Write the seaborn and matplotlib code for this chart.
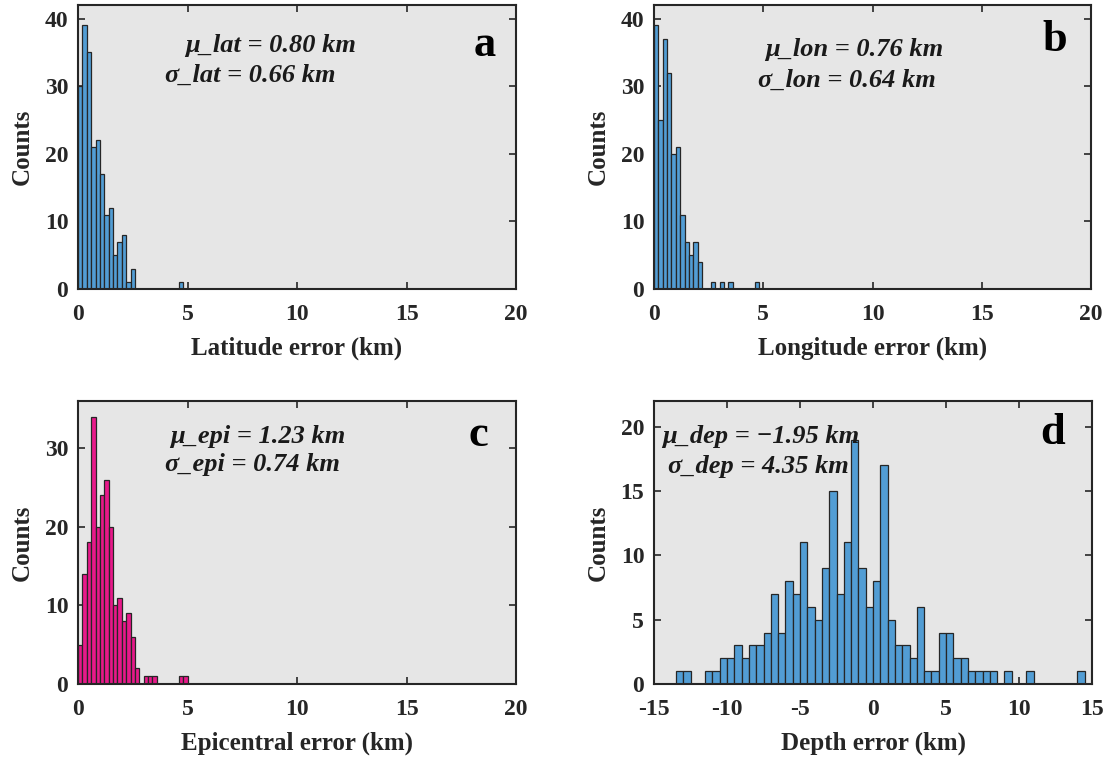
import numpy as np
import matplotlib
matplotlib.use("Agg")
import matplotlib.pyplot as plt
import seaborn as sns

# histogram counts (MATLAB-style fixed-width bins)
lat_start, lat_width = 0.0, 0.2
lat_counts = [30, 39, 35, 21, 22, 17, 11, 12, 5, 7, 8, 1, 3,
              0, 0, 0, 0, 0, 0, 0, 0, 0, 0, 1]

lon_start, lon_width = 0.0, 0.2
lon_counts = [39, 25, 37, 32, 20, 21, 11, 7, 5, 7, 4, 0, 0, 1,
              0, 1, 0, 1, 0, 0, 0, 0, 0, 1]

epi_start, epi_width = 0.0, 0.2
epi_counts = [5, 14, 18, 34, 20, 24, 26, 20, 10, 11, 8, 9, 6, 2,
              0, 1, 1, 1, 0, 0, 0, 0, 0, 1, 1]

dep_start, dep_width = -13.5, 0.5
dep_counts = [1, 1, 0, 0, 1, 1, 2, 2, 3, 2, 3, 3, 4, 7, 4, 8, 7, 11, 6, 5,
              9, 15, 7, 11, 19, 9, 6, 8, 17, 5, 3, 3, 2, 6, 1, 1, 4, 4, 2, 2,
              1, 1, 1, 1, 0, 1, 0, 0, 1, 0, 0, 0, 0, 0, 0, 1]

xlabels = ["Latitude error (km)", "Longitude error (km)",
           "Epicentral error (km)", "Depth error (km)"]
stat_mu = ["\u03bc_lat = 0.80 km", "\u03bc_lon = 0.76 km",
           "\u03bc_epi = 1.23 km", "\u03bc_dep = \u22121.95 km"]
stat_sd = ["\u03c3_lat = 0.66 km", "\u03c3_lon = 0.64 km",
           "\u03c3_epi = 0.74 km", "\u03c3_dep = 4.35 km"]
letters = ["a", "b", "c", "d"]

sns.set_style("ticks")
plt.rcParams["font.family"] = ["Liberation Serif", "DejaVu Serif"]
plt.rcParams["font.weight"] = "bold"
plt.rcParams["axes.labelweight"] = "bold"
plt.rcParams["axes.unicode_minus"] = False

blue = "#529dd4"
pink = "#e8198a"
bg = "#e6e6e6"

fig = plt.figure(figsize=(11.1, 7.6), dpi=100)
rects = [[0.0703, 0.6197, 0.3946, 0.3737],
         [0.5892, 0.6197, 0.3937, 0.3737],
         [0.0703, 0.1000, 0.3946, 0.3724],
         [0.5892, 0.1000, 0.3946, 0.3724]]

panels = [(lat_start, lat_width, lat_counts, blue),
          (lon_start, lon_width, lon_counts, blue),
          (epi_start, epi_width, epi_counts, pink),
          (dep_start, dep_width, dep_counts, blue)]

xlims = [(0, 20), (0, 20), (0, 20), (-15, 15)]
xticks = [np.arange(0, 21, 5)] * 3 + [np.arange(-15, 16, 5)]
ylims = [(0, 42), (0, 42), (0, 36), (0, 22)]
yticks = [np.arange(0, 41, 10), np.arange(0, 41, 10),
          np.arange(0, 31, 10), np.arange(0, 21, 5)]

# text positions in axes fraction
mu_pos = [(0.244, 0.859), (0.254, 0.842), (0.21, 0.873), (0.018, 0.873)]
sd_pos = [(0.199, 0.754), (0.238, 0.736), (0.199, 0.774), (0.032, 0.770)]
let_pos = [(0.929, 0.859), (0.918, 0.877), (0.913, 0.880), (0.911, 0.887)]

for i, (start, width, counts, col) in enumerate(panels):
    ax = fig.add_axes(rects[i])
    ax.set_facecolor(bg)
    nb = len(counts)
    centers = start + width * (np.arange(nb) + 0.5)
    # one sample per counted event, placed at its bin centre
    samples = np.repeat(centers, counts)
    sns.histplot(x=samples, binwidth=width,
                 binrange=(start, start + width * nb), ax=ax,
                 color=col, alpha=1.0, edgecolor="#262626", linewidth=0.9)
    ax.set_xlim(*xlims[i])
    ax.set_ylim(*ylims[i])
    ax.set_xticks(xticks[i])
    ax.set_yticks(yticks[i])
    ax.set_xlabel(xlabels[i], fontsize=18, fontweight="bold", labelpad=8)
    ax.set_ylabel("Counts", fontsize=18, fontweight="bold", labelpad=8)
    ax.tick_params(direction="in", top=True, right=True, length=5,
                   width=1.2, labelsize=17, color="#262626")
    ax.tick_params(axis="x", pad=11)
    ax.tick_params(axis="y", pad=7)
    for lab in ax.get_xticklabels() + ax.get_yticklabels():
        lab.set_fontweight("bold")
    for s in ax.spines.values():
        s.set_visible(True)
        s.set_linewidth(1.5)
        s.set_color("#262626")
    ax.text(*mu_pos[i], stat_mu[i], transform=ax.transAxes, fontsize=19,
            fontstyle="italic", fontweight="bold", ha="left", va="center",
            color="#1a1a1a")
    ax.text(*sd_pos[i], stat_sd[i], transform=ax.transAxes, fontsize=19,
            fontstyle="italic", fontweight="bold", ha="left", va="center",
            color="#1a1a1a")
    ax.text(*let_pos[i], letters[i], transform=ax.transAxes, fontsize=32,
            fontweight="bold", ha="center", va="center", color="black")

fig.savefig("out.png", dpi=100)
